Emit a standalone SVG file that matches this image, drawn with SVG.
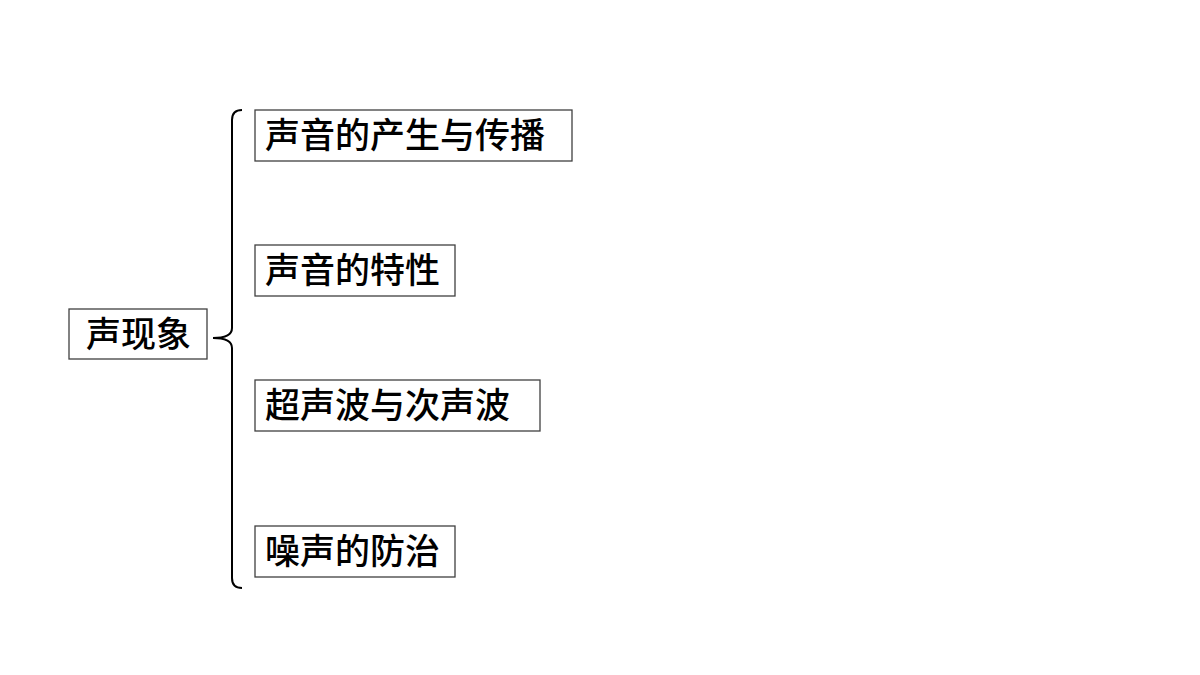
<svg xmlns="http://www.w3.org/2000/svg" width="1200" height="675" viewBox="0 0 1200 675">
<style>
.box{fill:#fff;stroke:#404040;stroke-width:1.3}
.t{font-family:"Noto Sans CJK SC","Noto Sans CJK JP",sans-serif;font-size:35px;font-weight:500;fill:#000}
.brace{fill:none;stroke:#000;stroke-width:2}
</style>
<rect width="1200" height="675" fill="#fff"/>
<g id="connectors">
<path class="brace" d="M242,110 Q232,110 232,120 V328 Q232,338 213,338 Q232,338 232,348 V578 Q232,588 242,588"/>
</g>
<g id="root"><rect class="box" x="69" y="309" width="138" height="50"/><text class="t" x="86" y="347">声现象</text></g>
<g id="n1"><rect class="box" x="255" y="110" width="317" height="51"/><text class="t" x="265" y="148">声音的产生与传播</text></g>
<g id="n2"><rect class="box" x="255" y="245" width="200" height="51"/><text class="t" x="265" y="283">声音的特性</text></g>
<g id="n3"><rect class="box" x="255" y="380" width="285" height="51"/><text class="t" x="265" y="418">超声波与次声波</text></g>
<g id="n4"><rect class="box" x="255" y="526" width="200" height="51"/><text class="t" x="265" y="564">噪声的防治</text></g>
</svg>
